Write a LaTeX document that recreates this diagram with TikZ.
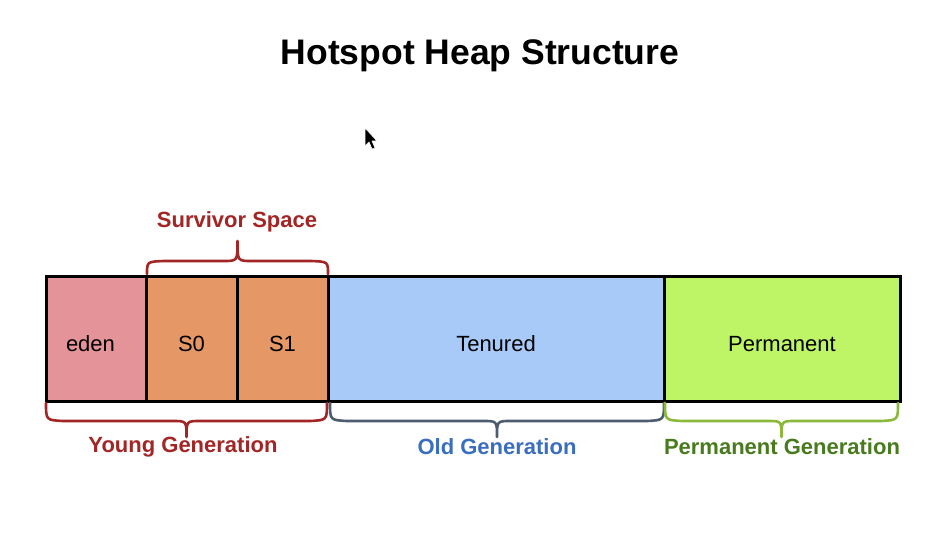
\documentclass[tikz,border=0pt]{standalone}
\usepackage{fontspec}
\setmainfont{Liberation Sans}
\usetikzlibrary{calc}

\definecolor{edenfill}{RGB}{228,148,152}
\definecolor{survfill}{RGB}{229,152,102}
\definecolor{tenfill}{RGB}{168,202,248}
\definecolor{permfill}{RGB}{190,245,102}
\definecolor{youngred}{RGB}{163,38,38}
\definecolor{oldblue}{RGB}{58,110,190}
\definecolor{oldslate}{RGB}{78,92,112}
\definecolor{permgreen}{RGB}{72,122,30}
\definecolor{permlime}{RGB}{140,185,60}

% curly brace between two points: #1 colour, #2 left point, #3 right point,
% #4 direction (1 = up, -1 = down), #5 arm depth, #6 extra depth of the tip
\newcommand\heapbrace[6]{%
  \draw[curly,#1] let \p1=#2, \p2=#3, \n1={(\x1+\x2)/2}, \n2={#4*#5}, \n3={#4*(#5+#6)} in
    (\x1,\y1) .. controls (\x1,\y1+0.95*\n2) .. (\x1+17pt,\y1+\n2)
    -- (\n1-14pt,\y1+\n2) .. controls (\n1,\y1+\n2) .. (\n1,\y1+\n3)
    .. controls (\n1,\y1+\n2) .. (\n1+14pt,\y1+\n2)
    -- (\x2-17pt,\y1+\n2) .. controls (\x2,\y1+0.95*\n2) .. (\x2,\y1);}

\begin{document}
\begin{tikzpicture}[x=1pt,y=-1pt,
  region/.style={draw=black,line width=3pt,minimum height=125pt,inner sep=0pt,
    outer sep=0pt,anchor=north west,text height=25pt,text depth=0pt,
    font=\fontsize{22}{24}\selectfont},
  label/.style={font=\bfseries\fontsize{22}{24}\selectfont},
  curly/.style={line width=2.6pt,line cap=round,line join=round}]
\useasboundingbox (0,0) rectangle (942,540);
\fill[white] (0,0) rectangle (942,540);

% title
\node[font=\bfseries\fontsize{35.5}{40}\selectfont] (title) at (480,56) {Hotspot Heap Structure};

% mouse pointer
\filldraw[fill=black,draw=white,line width=0.6pt,line join=round]
  (365,128) -- (365,146) -- (369,142) -- (372,149) -- (375,148) -- (372,141) -- (377,141) -- cycle;

% heap regions
\node[region,fill=edenfill,minimum width=100pt,text width=60pt,align=left] (eden) at (46,276) {eden};
\node[region,fill=survfill,minimum width=91pt] (s0) at (eden.north east) {S0};
\node[region,fill=survfill,minimum width=91pt] (s1) at (s0.north east) {S1};
\node[region,fill=tenfill,minimum width=336pt] (tenured) at (s1.north east) {Tenured};
\node[region,fill=permfill,minimum width=236pt] (perm) at (tenured.north east) {Permanent};

% braces
\heapbrace{youngred}{($(s0.north west)+(1,-2)$)}{($(s1.north east)+(0,-2)$)}{1}{13}{20}
\heapbrace{youngred}{($(eden.south west)+(0,2)$)}{($(s1.south east)+(-1,2)$)}{-1}{18}{16}
\heapbrace{oldslate}{($(tenured.south west)+(2,2)$)}{($(tenured.south east)+(0,2)$)}{-1}{18}{16}
\heapbrace{permlime}{($(perm.south west)+(1,2)$)}{($(perm.south east)+(-2,2)$)}{-1}{18}{16}

% labels
\node[label,text=youngred] (survlabel) at (237,222) {Survivor Space};
\node[label,text=youngred] (younglabel) at (183,447) {Young Generation};
\node[label,text=oldblue] (oldlabel) at (497,447) {Old Generation};
\node[label,text=permgreen] (permlabel) at (782,447) {Permanent Generation};
\end{tikzpicture}
\end{document}
